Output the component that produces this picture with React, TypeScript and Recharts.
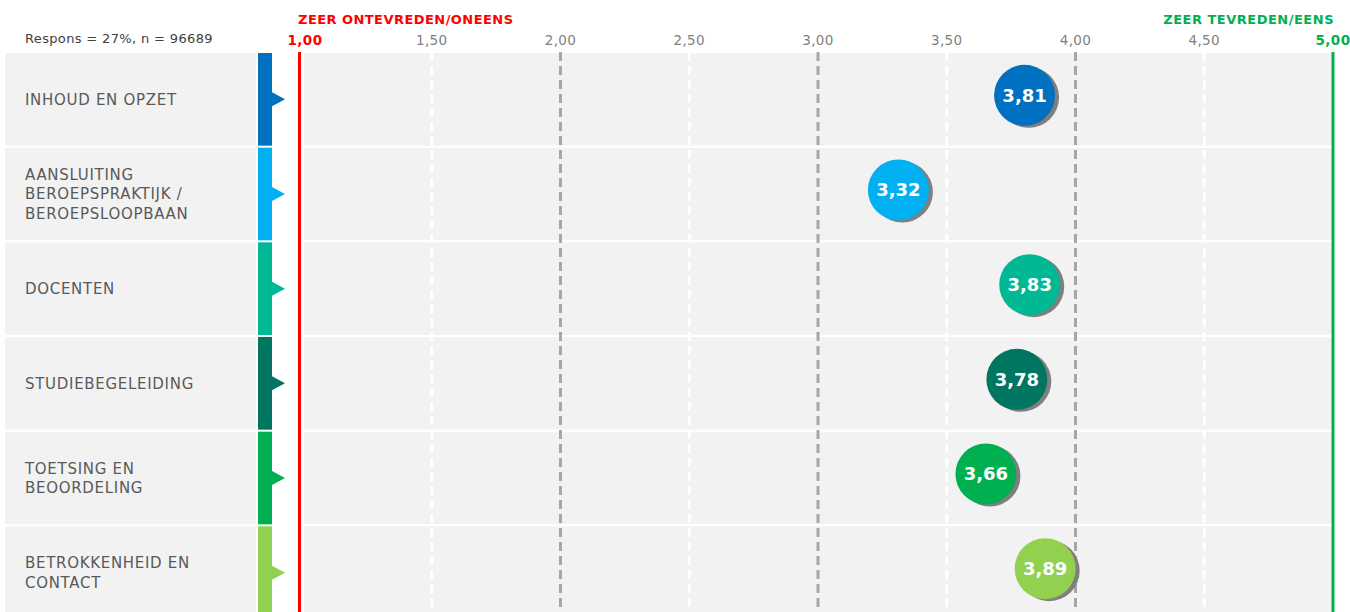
import React from 'react'
import {
  ComposedChart, Scatter, XAxis, YAxis, ReferenceLine, ReferenceArea
} from 'recharts'

const labels: string[][] = [
  ['INHOUD EN OPZET'],
  ['AANSLUITING', 'BEROEPSPRAKTIJK /', 'BEROEPSLOOPBAAN'],
  ['DOCENTEN'],
  ['STUDIEBEGELEIDING'],
  ['TOETSING EN', 'BEOORDELING'],
  ['BETROKKENHEID EN', 'CONTACT'],
]
const scores = [3.81, 3.32, 3.83, 3.78, 3.66, 3.89]
const colors = ['#0070c0', '#00b0f0', '#00b894', '#007560', '#00b050', '#92d050']
const xTicks = [1, 1.5, 2, 2.5, 3, 3.5, 4, 4.5, 5]
const majorLines = [2, 3, 4]
const minorLines = [1.5, 2.5, 3.5, 4.5]
const responseText = 'Respons = 27%, n = 96689'
const lowLabel = 'ZEER ONTEVREDEN/ONEENS'
const highLabel = 'ZEER TEVREDEN/EENS'

const W = 1350
const H = 620
const TOP = 52
const LEFT = 303
const ROW_H = (H - TOP) / labels.length
const FONT = '"DejaVu Sans", Verdana, sans-serif'

const data = scores.map((score, i) => ({ score, row: i + 0.5, color: colors[i] }))

const fmt = (v: number) => v.toFixed(2).replace('.', ',')

const XTick = (props: any) => {
  const { x, payload } = props
  const v = payload.value
  const isLow = v === 1
  const isHigh = v === 5
  const fill = isLow ? '#ff0000' : isHigh ? '#00b050' : '#7f7f7f'
  return (
    <g fontFamily={FONT}>
      <text x={x + (isLow ? 2 : 0)} y={45} textAnchor="middle" fontSize={13.5} letterSpacing={0.4}
        fontWeight={isLow || isHigh ? 'bold' : 'normal'} fill={fill}>{fmt(v)}</text>
      {isLow && <text x={x - 5} y={24} fontSize={13} letterSpacing={0.45} fontWeight="bold" fill="#ff0000">{lowLabel}</text>}
      {isHigh && <text x={x + 1} y={24} textAnchor="end" fontSize={13} letterSpacing={0.5} fontWeight="bold" fill="#00b050">{highLabel}</text>}
    </g>
  )
}

const YTick = (props: any) => {
  const { y, payload, index } = props
  const i = Math.floor(payload.value)
  const lines = labels[i] || []
  const top = y - ROW_H / 2 + 1
  const h = ROW_H - 2
  const c = colors[i]
  const start = y - ((lines.length - 1) * 19.5) / 2
  return (
    <g key={index}>
      <rect x={5} y={top} width={251} height={h} fill="#f2f2f2" />
      <rect x={258} y={top} width={14} height={h} fill={c} />
      <polygon points={`272,${y - 7} 285,${y} 272,${y + 7}`} fill={c} />
      {lines.map((l, k) => (
        <text key={k} x={25} y={start + k * 19.5} dy="0.35em" fontSize={15} letterSpacing={0.7}
          fill="#595959" fontFamily={FONT}>{l}</text>
      ))}
    </g>
  )
}

const Bubble = (props: any) => {
  const { cx, cy, payload } = props
  const r = 30.5
  const x = cx - 2
  const y = cy - 4
  return (
    <g>
      <circle cx={x + 4} cy={y + 2} r={r} fill="#7f7f7f" />
      <circle cx={x} cy={y} r={r} fill={payload.color} />
      <text x={x} y={y} dy="0.36em" textAnchor="middle" fontSize={18} fontWeight="bold" fill="#ffffff" fontFamily={FONT}>{fmt(payload.score)}</text>
    </g>
  )
}

// red boundary sits a few px left of the 1,00 position in the original
const LowLine = (props: any) => {
  const { x1, y1, y2 } = props
  return <line x1={x1 - 3.5} x2={x1 - 3.5} y1={y1} y2={y2} stroke="#ff0000" strokeWidth={3} />
}

export default function App() {
  return (
    <div style={{ position: 'fixed', left: 0, top: 0, width: W, height: 612, overflow: 'hidden', background: '#fff' }}>
      <div style={{ position: 'absolute', left: 25, top: 31, fontFamily: FONT, fontSize: 13, letterSpacing: 0.35, color: '#404040', zIndex: 2 }}>
        {responseText}
      </div>
      <ComposedChart width={W} height={H} data={data} margin={{ top: 0, right: 17, bottom: 0, left: 0 }}>
        <XAxis type="number" dataKey="score" orientation="top" domain={[1, 5]} ticks={xTicks}
          height={TOP} axisLine={false} tickLine={false} tick={<XTick />} interval={0} allowDataOverflow />
        <YAxis type="number" dataKey="row" domain={[0, labels.length]} reversed width={LEFT}
          ticks={labels.map((_, i) => i + 0.5)} axisLine={false} tickLine={false} tick={<YTick />} interval={0} />
        {labels.map((_, i) => (
          <ReferenceArea key={i} x1={1} x2={5} y1={i} y2={i + 1} fill="#f2f2f2" fillOpacity={1}
            stroke="#ffffff" strokeWidth={2} ifOverflow="hidden" />
        ))}
        {minorLines.map(v => (
          <ReferenceLine key={v} x={v} stroke="#ffffff" strokeWidth={3} strokeDasharray="9 5" />
        ))}
        {majorLines.map(v => (
          <ReferenceLine key={v} x={v} stroke="#a6a6a6" strokeWidth={3} strokeDasharray="9 5" />
        ))}
        <ReferenceLine x={1} shape={<LowLine />} />
        <ReferenceLine x={5} stroke="#00b050" strokeWidth={3} />
        <Scatter dataKey="score" isAnimationActive={false} shape={<Bubble />} />
      </ComposedChart>
    </div>
  )
}
